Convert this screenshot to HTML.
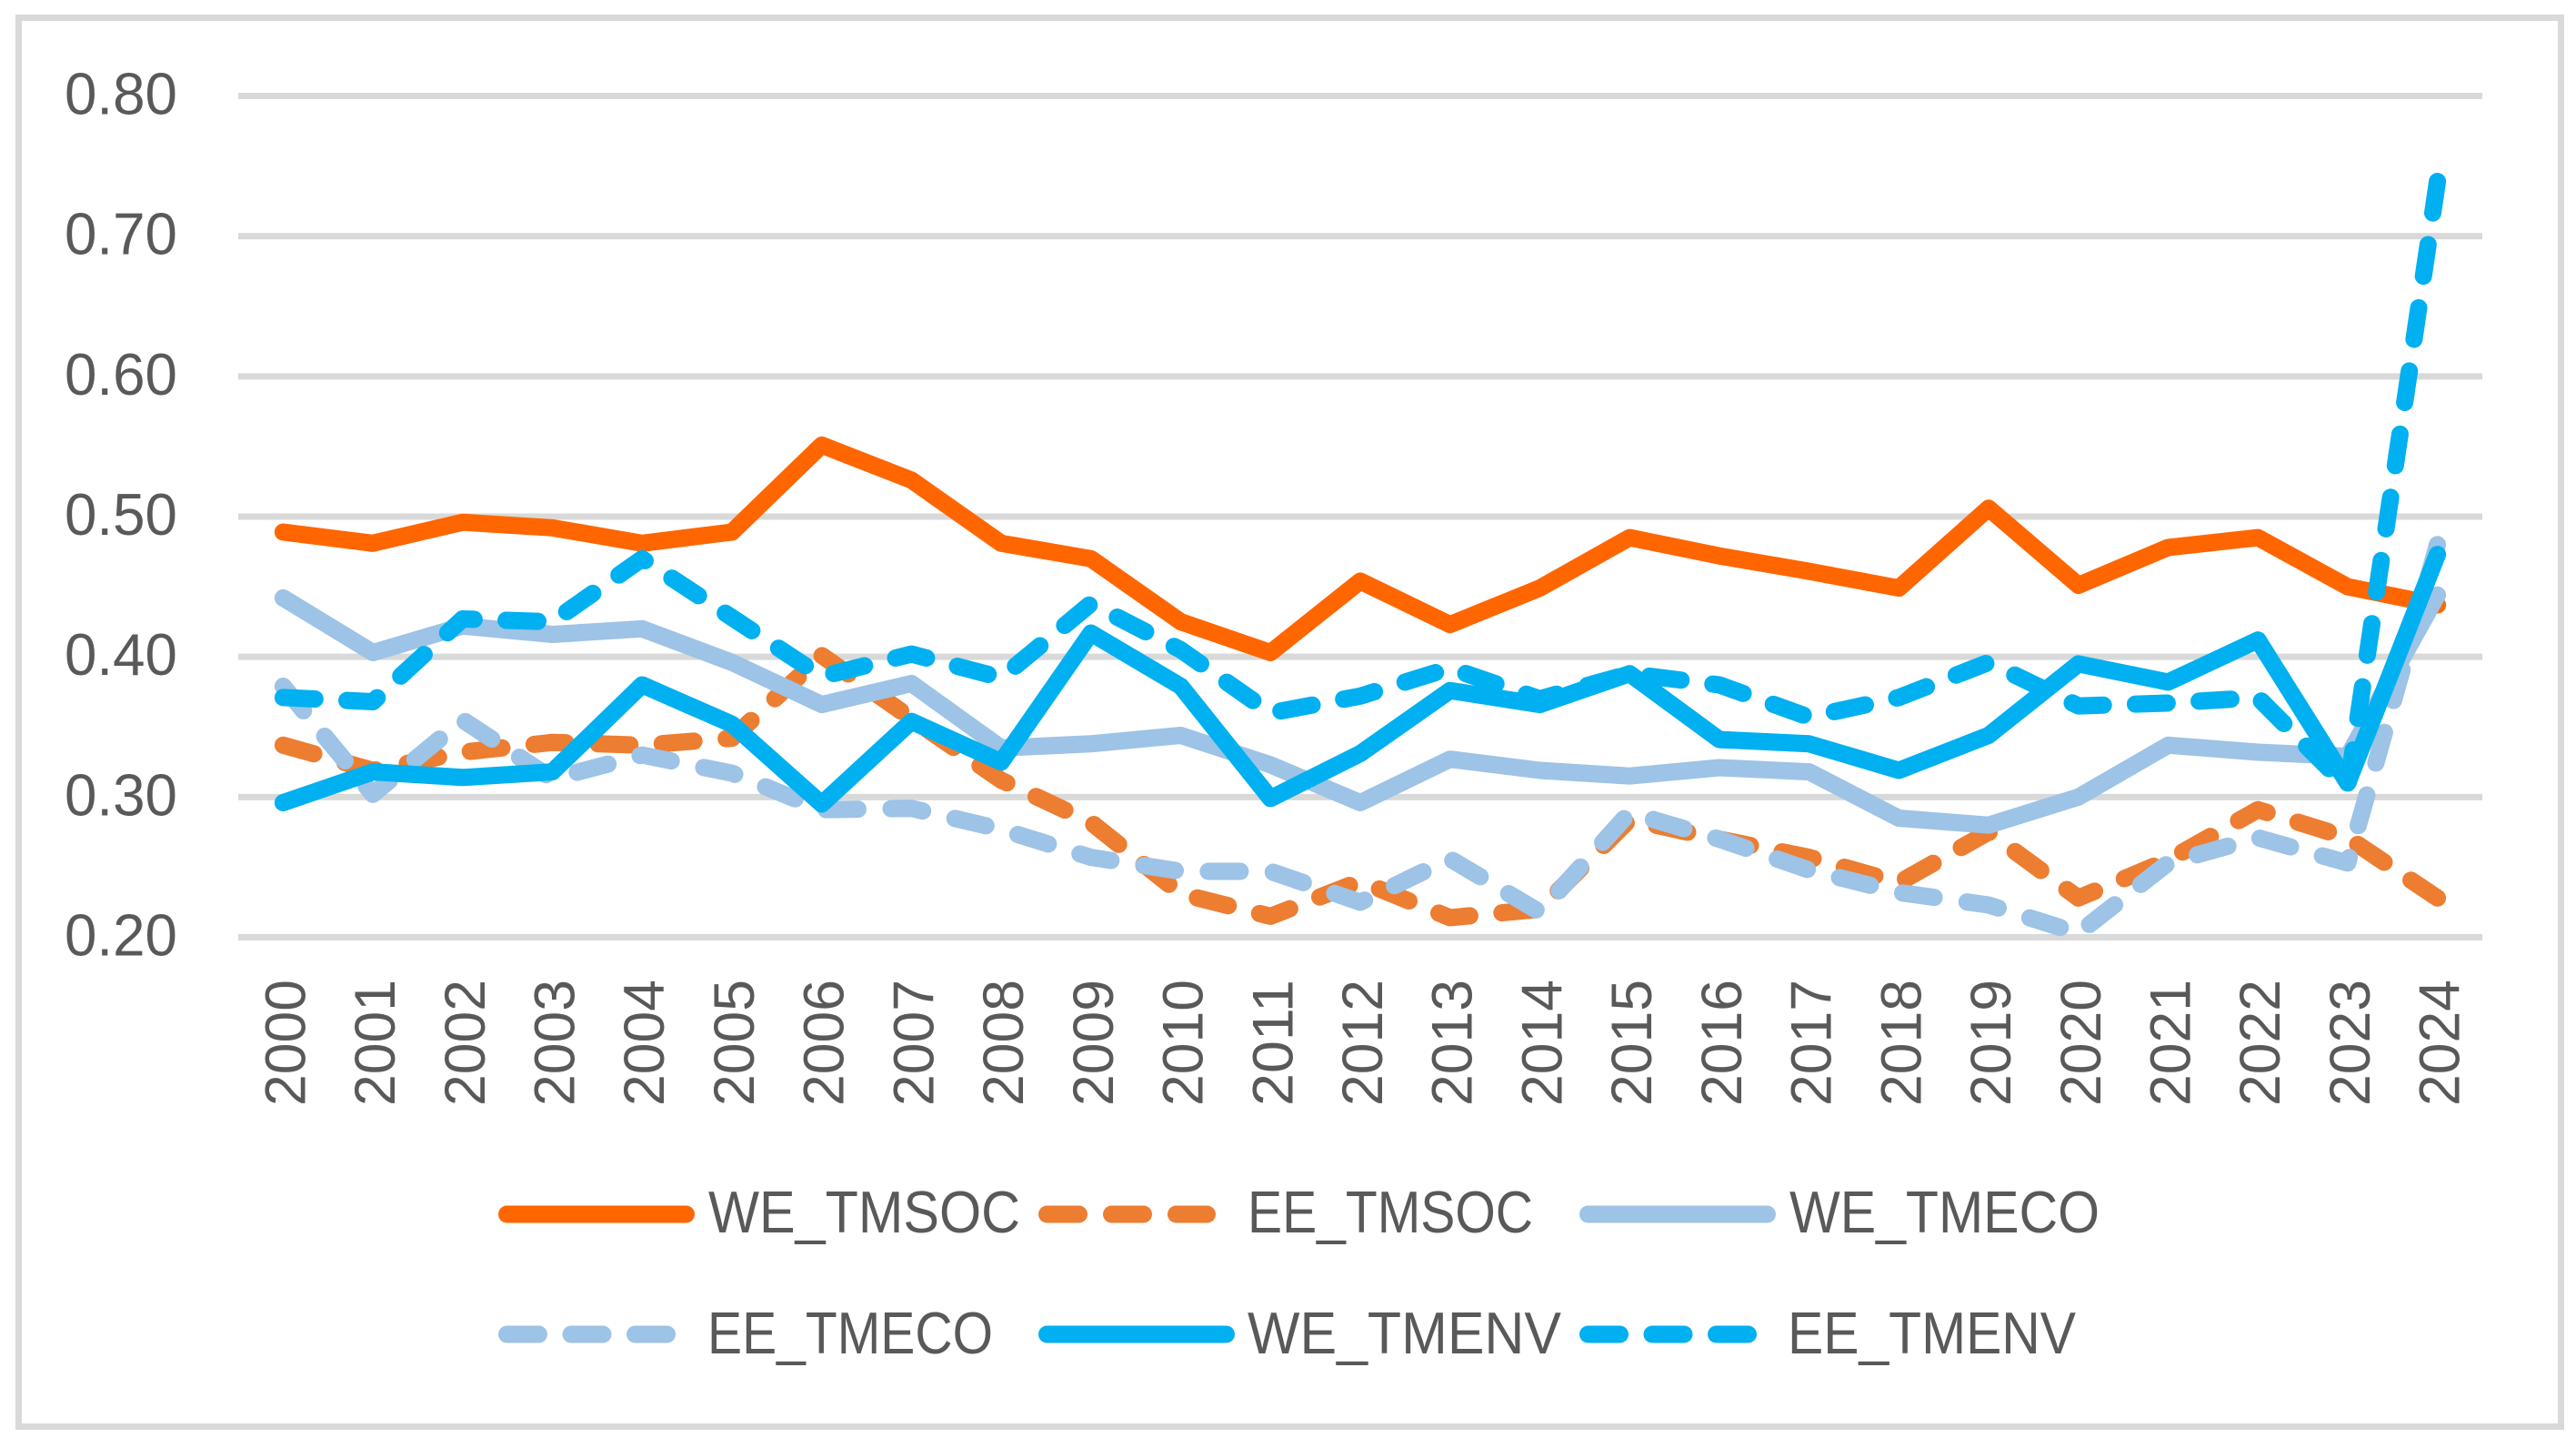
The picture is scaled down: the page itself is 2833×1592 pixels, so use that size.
<!DOCTYPE html>
<html lang="en">
<head>
<meta charset="utf-8">
<title>WE and EE TM indices, 2000–2024</title>
<style>
html,body{margin:0;padding:0;background:#fff;width:2833px;height:1592px;overflow:hidden}
svg{display:block}
text{font-family:"Liberation Sans",sans-serif;fill:#595959}
</style>
</head>
<body>
<svg id="chart" xmlns="http://www.w3.org/2000/svg" width="2833" height="1592" viewBox="0 0 2833 1592">
  <rect x="0" y="0" width="2833" height="1592" fill="#ffffff"/>
  <rect x="20.5" y="19.5" width="2796" height="1549" fill="none" stroke="#d9d9d9" stroke-width="7"/>
  <g id="grid"></g>
  <g id="ylabels"></g>
  <g id="xlabels"></g>
  <g id="series"></g>
  <g font-size="65">
    <g>
      <line x1="557.5" y1="1335" x2="754.5" y2="1335" stroke="#ff6600" stroke-width="19" stroke-linecap="round"/>
      <text x="779" y="1355" textLength="343" lengthAdjust="spacingAndGlyphs">WE_TMSOC</text>
    </g>
    <g>
      <line x1="1151.5" y1="1335" x2="1327.5" y2="1335" stroke="#ed7d31" stroke-width="19" stroke-linecap="round" stroke-dasharray="35 36"/>
      <text x="1372" y="1355" textLength="314" lengthAdjust="spacingAndGlyphs">EE_TMSOC</text>
    </g>
    <g>
      <line x1="1746.5" y1="1335" x2="1943.5" y2="1335" stroke="#9dc3e6" stroke-width="19" stroke-linecap="round"/>
      <text x="1968" y="1355" textLength="341" lengthAdjust="spacingAndGlyphs">WE_TMECO</text>
    </g>
    <g>
      <line x1="557.5" y1="1467" x2="733.5" y2="1467" stroke="#9dc3e6" stroke-width="19" stroke-linecap="round" stroke-dasharray="35 35.5"/>
      <text x="778" y="1488" textLength="314" lengthAdjust="spacingAndGlyphs">EE_TMECO</text>
    </g>
    <g>
      <line x1="1151.5" y1="1467" x2="1348.5" y2="1467" stroke="#00b0f0" stroke-width="19" stroke-linecap="round"/>
      <text x="1372" y="1488" textLength="345" lengthAdjust="spacingAndGlyphs">WE_TMENV</text>
    </g>
    <g>
      <line x1="1746.5" y1="1467" x2="1922.5" y2="1467" stroke="#00b0f0" stroke-width="19" stroke-linecap="round" stroke-dasharray="35 35.5"/>
      <text x="1966" y="1488" textLength="317" lengthAdjust="spacingAndGlyphs">EE_TMENV</text>
    </g>
  </g>
</svg>
<script>
const years = ["2000","2001","2002","2003","2004","2005","2006","2007","2008","2009","2010","2011","2012","2013","2014","2015","2016","2017","2018","2019","2020","2021","2022","2023","2024"];
const yTicks = [0.2,0.3,0.4,0.5,0.6,0.7,0.8];
const weTmsoc = [0.489,0.481,0.496,0.492,0.481,0.489,0.551,0.526,0.481,0.470,0.425,0.403,0.454,0.423,0.449,0.485,0.472,0.461,0.449,0.506,0.451,0.478,0.485,0.450,0.437];
const eeTmsoc = [0.337,0.319,0.332,0.339,0.337,0.342,0.401,0.356,0.312,0.282,0.231,0.215,0.240,0.214,0.220,0.284,0.270,0.257,0.239,0.275,0.228,0.255,0.291,0.271,0.228];
const weTmeco = [0.442,0.403,0.422,0.416,0.420,0.396,0.366,0.381,0.335,0.338,0.344,0.323,0.296,0.327,0.319,0.315,0.321,0.318,0.285,0.280,0.300,0.337,0.332,0.329,0.444];
const eeTmeco = [0.379,0.302,0.355,0.313,0.330,0.317,0.291,0.292,0.277,0.257,0.247,0.247,0.225,0.256,0.218,0.289,0.270,0.248,0.232,0.223,0.203,0.253,0.271,0.253,0.480];
const weTmenv = [0.296,0.318,0.314,0.318,0.380,0.352,0.295,0.354,0.325,0.417,0.379,0.299,0.331,0.376,0.366,0.388,0.341,0.338,0.319,0.344,0.395,0.382,0.412,0.310,0.473];
const eeTmenv = [0.371,0.368,0.427,0.425,0.470,0.428,0.386,0.402,0.385,0.438,0.405,0.360,0.372,0.392,0.370,0.388,0.380,0.357,0.371,0.396,0.365,0.367,0.371,0.307,0.739];

const NS = "http://www.w3.org/2000/svg";
const left = 262, right = 2730, y020 = 1030.5, y080 = 105.5;
const xAt = i => left + (right - left) * (i + 0.5) / years.length;
const yAt = v => y020 - (v - 0.2) * (y020 - y080) / 0.6;

const gridG = document.getElementById("grid");
const yG = document.getElementById("ylabels");
const xG = document.getElementById("xlabels");
const seriesG = document.getElementById("series");

yTicks.forEach(t => {
  const l = document.createElementNS(NS, "line");
  
  
  l.setAttribute("x1", left);
  l.setAttribute("x2", right);
  l.setAttribute("y1", yAt(t));
  l.setAttribute("y2", yAt(t));
  l.setAttribute("stroke", "#d9d9d9");
  l.setAttribute("stroke-width", "7");
  gridG.appendChild(l);

  const txt = document.createElementNS(NS, "text");
  
  
  txt.setAttribute("x", 71);
  txt.setAttribute("y", yAt(t) + 20);
  txt.setAttribute("font-size", "65");
  txt.setAttribute("textLength", "124");
  txt.setAttribute("lengthAdjust", "spacingAndGlyphs");
  txt.textContent = t.toFixed(2);
  yG.appendChild(txt);
});

years.forEach((yr, i) => {
  const txt = document.createElementNS(NS, "text");
  
  
  const bx = xAt(i) + 24;
  txt.setAttribute("transform", "translate(" + bx + ",1216) rotate(-90)");
  txt.setAttribute("font-size", "63");
  txt.setAttribute("textLength", "139");
  txt.setAttribute("lengthAdjust", "spacingAndGlyphs");
  txt.textContent = yr;
  xG.appendChild(txt);
});

function drawSeries(values, color, dashed, name) {
  const p = document.createElementNS(NS, "polyline");
  
  
  p.setAttribute("points", values.map((v, i) => xAt(i).toFixed(1) + "," + yAt(v).toFixed(1)).join(" "));
  p.setAttribute("fill", "none");
  p.setAttribute("stroke", color);
  p.setAttribute("stroke-width", "19");
  p.setAttribute("stroke-linecap", "round");
  p.setAttribute("stroke-linejoin", "round");
  seriesG.appendChild(p);
  if (dashed) {
    // a dash starts on the first point and another finishes on the last point
    const total = p.getTotalLength();
    const dash = 35;
    const n = Math.round((total - dash) / 71);
    const period = (total - dash) / n;
    p.setAttribute("stroke-dasharray", dash + " " + (period - dash).toFixed(3));
  }
}
drawSeries(weTmsoc, "#ff6600", false, "series-we-tmsoc");
drawSeries(eeTmsoc, "#ed7d31", true, "series-ee-tmsoc");
drawSeries(weTmeco, "#9dc3e6", false, "series-we-tmeco");
drawSeries(eeTmeco, "#9dc3e6", true, "series-ee-tmeco");
drawSeries(weTmenv, "#00b0f0", false, "series-we-tmenv");
drawSeries(eeTmenv, "#00b0f0", true, "series-ee-tmenv");
</script>
</body>
</html>
